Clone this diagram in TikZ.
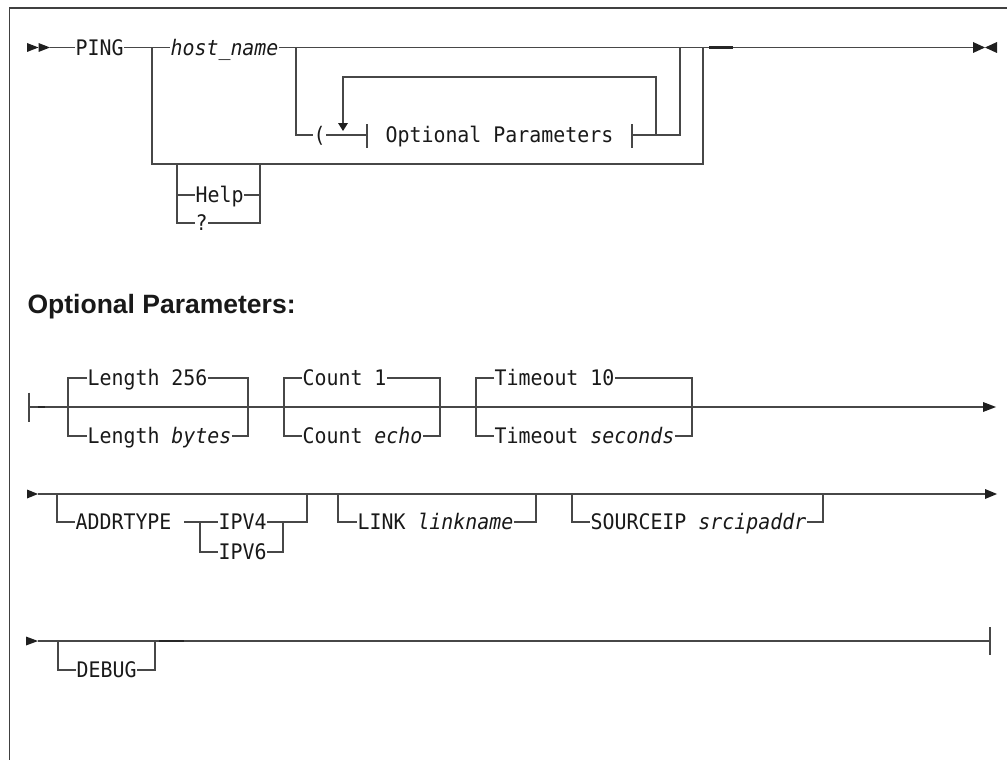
\documentclass[tikz,border=0pt]{standalone}
\usepackage{fontspec}
\setmainfont{Liberation Sans}
\setmonofont[FakeStretch=0.93]{DejaVu Sans Mono}
\usetikzlibrary{positioning,calc}
\tikzset{every picture/.style={line width=1.2bp}}
\tikzset{
  rail/.style={draw=black!72},
  kw/.style={anchor=west, inner sep=0pt, text height=15.6bp, text depth=0pt,
    font=\ttfamily\fontsize{21.4bp}{25bp}\selectfont, text=black!90},
  tip/.style={fill=black!88},
  stub/.style={draw=black!85, line width=2.4bp},
}

\begin{document}
\begin{tikzpicture}[x=1bp, y=-1bp]
    \useasboundingbox (0,0) rectangle (1007,760);
    % 边框
    \draw[black!75, line width=1.6bp] (9.5,760) -- (9.5,8) -- (1007,8);

    % 主语法行
    \node[kw] (ping) at (75,47.5) {PING};
    \node[kw] (host) at (170,47.5) {\textit{host\_name}};
    \node[kw] (lpar) at (313,135) {(};
    \node[kw] (opt) at (385,135) {Optional Parameters};
    \node[kw] (help) at (195,195) {Help};
    \node[kw] (qmark) at (195,223) {?};
    \coordinate (start) at (50,47.5);
    \coordinate (stop) at (973,47.5);
    \coordinate (outL) at (152,47.5);
    \coordinate (outR) at (703,47.5);
    \coordinate (parL) at (296,47.5);
    \coordinate (parR) at (680,47.5);
    \coordinate (barL) at (367,135);
    \coordinate (barR) at (632,135);
    \coordinate (loopR) at (656,135);
    \coordinate (loopL) at (343,123);
    \coordinate (helpL) at (177,164);
    \coordinate (helpR) at (260,164);
    \foreach \x in {27,38.5}
        \fill[tip] (\x,43) -- ++(11.5,4.5) -- ++(-11.5,4.5) -- cycle;
    \draw[rail] (start) -- (ping.west) (ping.east) -- (host.west) (host.east) -- (stop);
    \fill[tip] (973,42) -- (985,47.5) -- (973,53) -- cycle;
    \fill[tip] (997,42) -- (985,47.5) -- (997,53) -- cycle;
    \draw[stub] (709,47.5) -- (733,47.5);
    % 外层分支
    \draw[rail] (outL) |- (outR |- helpL) -- (outR);
    \draw[rail] (helpL) |- (qmark.west) (helpL |- help.west) -- (help.west);
    \draw[rail] (help.east) -| (helpR) (qmark.east) -| (helpR);
    % 括号与重复
    \draw[rail] (parL) |- (lpar.west) (lpar.east) -- (barL) (barR) -- (parR |- barR) -- (parR);
    \draw[rail] (barL) ++(0,-11) -- ++(0,24) (barR) ++(0,-11) -- ++(0,24);
    \draw[rail] (loopR) -- ++(0,-58) -| (loopL);
    \fill[tip] (338,123) -- (348,123) -- (343,131) -- cycle;

    % 小标题
    \node[anchor=base west, inner sep=0pt, text=black!90,
        font=\bfseries\fontsize{26.5bp}{30bp}\selectfont] (ophead) at (27,313) {Optional Parameters:};

    % 第一行参数
    \coordinate (fA) at (29,407);
    \coordinate (endA) at (983,407);
    \draw[rail] (fA) ++(0,-14.5) -- ++(0,29);
    \draw[rail] (fA) -- (endA);
    \draw[stub] (38,407) -- (45,407);
    \fill[tip] (983,402) -- (996,407) -- (983,412) -- cycle;
    \node[kw] (len1) at (87,378) {Length 256};
    \node[kw] (len2) at (87,436) {Length \textit{bytes}};
    \coordinate (lenL) at (68,407);
    \coordinate (lenR) at (248,407);
    \draw[rail] (len1.west) -| (lenL) |- (len2.west);
    \draw[rail] (len1.east) -| (lenR) |- (len2.east);
    \node[kw] (cnt1) at (302,378) {Count 1};
    \node[kw] (cnt2) at (302,436) {Count \textit{echo}};
    \coordinate (cntL) at (284,407);
    \coordinate (cntR) at (440,407);
    \draw[rail] (cnt1.west) -| (cntL) |- (cnt2.west);
    \draw[rail] (cnt1.east) -| (cntR) |- (cnt2.east);
    \node[kw] (tmo1) at (494,378) {Timeout 10};
    \node[kw] (tmo2) at (494,436) {Timeout \textit{seconds}};
    \coordinate (tmoL) at (476,407);
    \coordinate (tmoR) at (692,407);
    \draw[rail] (tmo1.west) -| (tmoL) |- (tmo2.west);
    \draw[rail] (tmo1.east) -| (tmoR) |- (tmo2.east);

    % 第二行参数
    \coordinate (fB) at (38,494);
    \coordinate (endB) at (985,494);
    \fill[tip] (27,489.5) -- (38,494) -- (27,498.5) -- cycle;
    \draw[rail] (fB) -- (endB);
    \fill[tip] (985,489) -- (997,494) -- (985,499) -- cycle;
    \node[kw] (addr) at (75,522) {ADDRTYPE};
    \node[kw] (ipv4) at (218,522) {IPV4};
    \node[kw] (ipv6) at (218,552) {IPV6};
    \coordinate (addrL) at (57,494);
    \coordinate (addrR) at (307,494);
    \coordinate (ipL) at (200,522);
    \coordinate (ipR) at (283,522);
    \draw[rail] (addrL) |- (addr.west);
    \draw[rail] ([xshift=12bp]addr.east) -- (ipv4.west) (ipv4.east) -| (addrR);
    \draw[rail] (ipL) |- (ipv6.west) (ipv6.east) -| (ipR);
    \node[kw] (link) at (357,522) {LINK \textit{linkname}};
    \coordinate (linkL) at (338,494);
    \coordinate (linkR) at (536,494);
    \draw[rail] (linkL) |- (link.west) (link.east) -| (linkR);
    \node[kw] (srcip) at (590,522) {SOURCEIP \textit{srcipaddr}};
    \coordinate (srcL) at (572,494);
    \coordinate (srcR) at (823,494);
    \draw[rail] (srcL) |- (srcip.west) (srcip.east) -| (srcR);

    % 第三行参数
    \coordinate (fC) at (38,641);
    \coordinate (endC) at (990,641);
    \fill[tip] (26,636.5) -- (38,641) -- (26,645.5) -- cycle;
    \draw[rail] (fC) -- (endC);
    \draw[rail] (endC) ++(0,-14) -- ++(0,28);
    \node[kw] (debug) at (76,670) {DEBUG};
    \coordinate (dbgL) at (58,641);
    \coordinate (dbgR) at (155,641);
    \draw[rail] (dbgL) |- (debug.west) (debug.east) -| (dbgR);
    \draw[stub] (159,641) -- (184,641);
\end{tikzpicture}
\end{document}
